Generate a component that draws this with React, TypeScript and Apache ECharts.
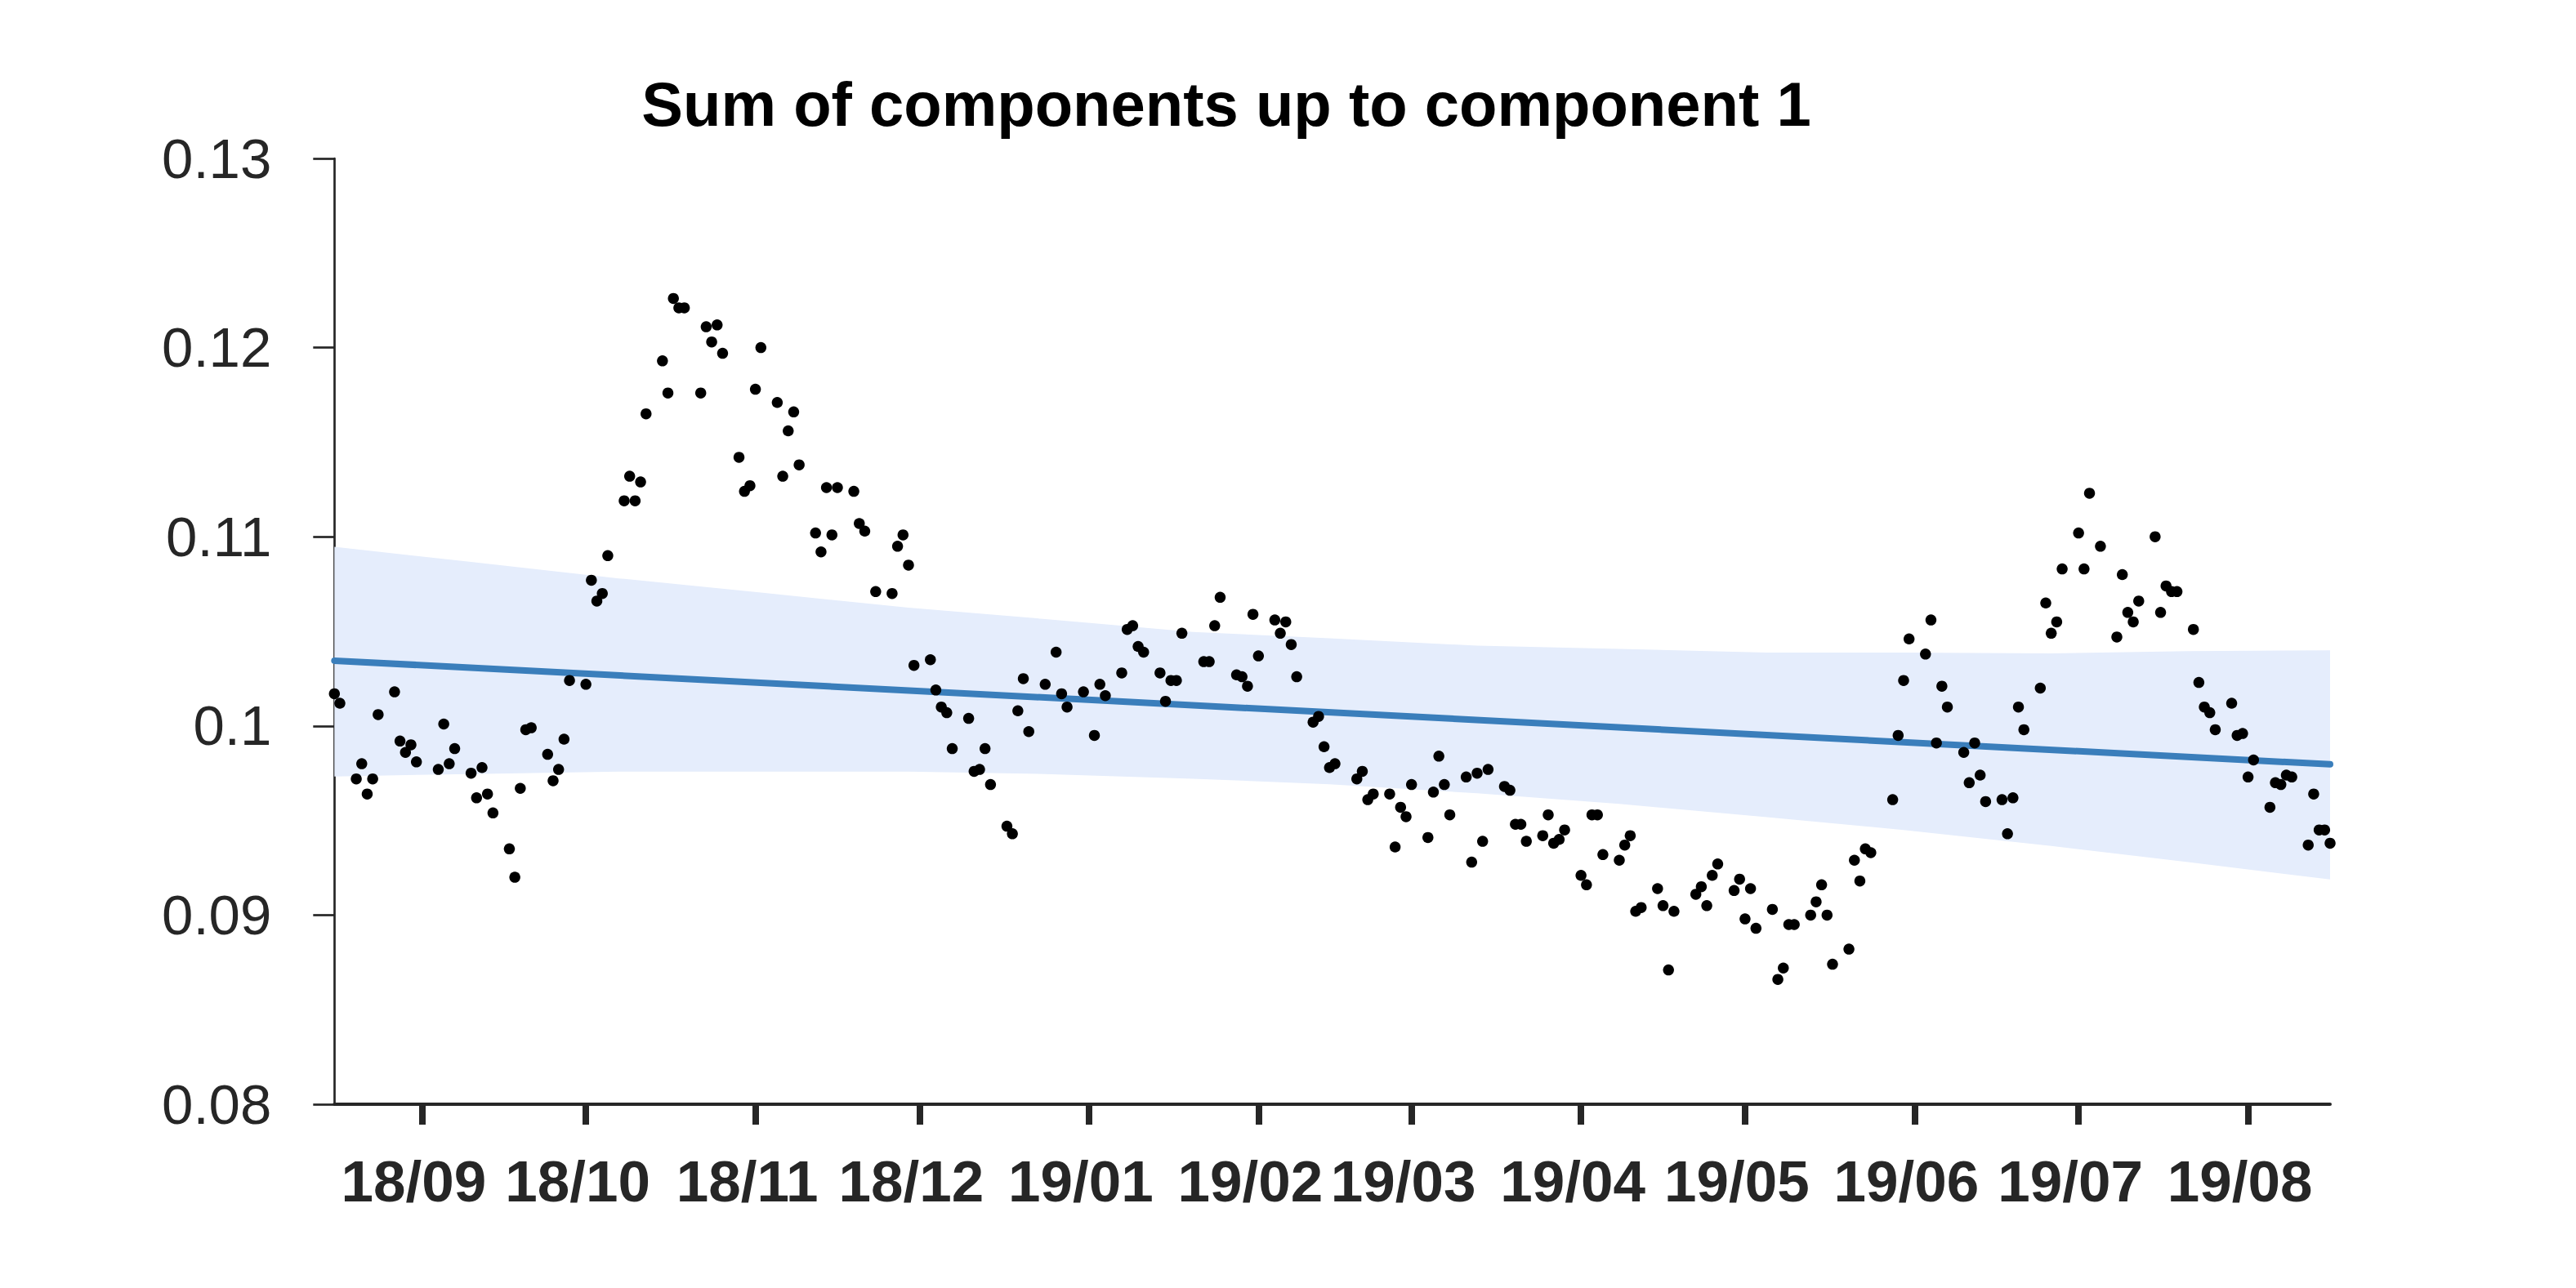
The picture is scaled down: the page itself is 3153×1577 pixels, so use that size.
import { useEffect, useRef } from 'react';
import * as echarts from 'echarts';

const TITLE = 'Sum of components up to component 1';

// Monday of each trading week, and the values Mon..Fri (null = no observation)
const weekStarts = [
  '2018-08-13', '2018-08-20', '2018-08-27', '2018-09-03', '2018-09-10', '2018-09-17', '2018-09-24',
  '2018-10-01', '2018-10-08', '2018-10-15', '2018-10-22', '2018-10-29', '2018-11-05', '2018-11-12',
  '2018-11-19', '2018-11-26', '2018-12-03', '2018-12-10', '2018-12-17', '2018-12-24', '2018-12-31',
  '2019-01-07', '2019-01-14', '2019-01-21', '2019-01-28', '2019-02-04', '2019-02-11', '2019-02-18',
  '2019-02-25', '2019-03-04', '2019-03-11', '2019-03-18', '2019-03-25', '2019-04-01', '2019-04-08',
  '2019-04-15', '2019-04-22', '2019-04-29', '2019-05-06', '2019-05-13', '2019-05-20', '2019-05-27',
  '2019-06-03', '2019-06-10', '2019-06-17', '2019-06-24', '2019-07-01', '2019-07-08', '2019-07-15',
  '2019-07-22', '2019-07-29', '2019-08-05', '2019-08-12',
];

const weekValues: (number | null)[][] = [
  [null, null, null, 0.1017, 0.1012],
  [0.0972, 0.0980, 0.0964, 0.0972, 0.1006],
  [0.1018, 0.0992, 0.0986, 0.0990, 0.0981],
  [null, 0.0977, 0.1001, 0.0980, 0.0988],
  [0.0975, 0.0962, 0.0978, 0.0964, 0.0954],
  [0.0935, 0.0920, 0.0967, 0.0998, 0.0999],
  [0.0985, 0.0971, 0.0977, 0.0993, 0.1024],
  [0.1022, 0.1077, 0.1066, 0.1070, 0.1090],
  [0.1119, 0.1132, 0.1119, 0.1129, 0.1165],
  [0.1193, 0.1176, 0.1226, 0.1221, 0.1221],
  [0.1176, 0.1211, 0.1203, 0.1212, 0.1197],
  [0.1142, 0.1124, 0.1127, 0.1178, 0.1200],
  [0.1171, 0.1132, 0.1156, 0.1166, 0.1138],
  [0.1102, 0.1092, 0.1126, 0.1101, 0.1126],
  [0.1124, 0.1107, 0.1103, null, 0.1071],
  [0.1070, 0.1095, 0.1101, 0.1085, 0.1032],
  [0.1035, 0.1019, 0.1010, 0.1007, 0.0988],
  [0.1004, 0.0976, 0.0977, 0.0988, 0.0969],
  [0.0947, 0.0943, 0.1008, 0.1025, 0.0997],
  [0.1022, null, 0.1039, 0.1017, 0.1010],
  [0.1018, null, 0.0995, 0.1022, 0.1016],
  [0.1028, 0.1051, 0.1053, 0.1042, 0.1039],
  [0.1028, 0.1013, 0.1024, 0.1024, 0.1049],
  [null, 0.1034, 0.1034, 0.1053, 0.1068],
  [0.1027, 0.1026, 0.1021, 0.1059, 0.1037],
  [0.1056, 0.1049, 0.1055, 0.1043, 0.1026],
  [0.1002, 0.1005, 0.0989, 0.0978, 0.0980],
  [null, 0.0972, 0.0976, 0.0961, 0.0964],
  [0.0964, 0.0936, 0.0957, 0.0952, 0.0969],
  [0.0941, 0.0965, 0.0984, 0.0969, 0.0953],
  [0.0973, 0.0928, 0.0975, 0.0939, 0.0977],
  [0.0968, 0.0966, 0.0948, 0.0948, 0.0939],
  [0.0942, 0.0953, 0.0938, 0.0940, 0.0945],
  [0.0921, 0.0916, 0.0953, 0.0953, 0.0932],
  [0.0929, 0.0937, 0.0942, 0.0902, 0.0904],
  [0.0914, 0.0905, 0.0871, 0.0902, null],
  [0.0911, 0.0915, 0.0905, 0.0921, 0.0927],
  [0.0913, 0.0919, 0.0898, 0.0914, 0.0893],
  [0.0903, 0.0866, 0.0872, 0.0895, 0.0895],
  [0.0900, 0.0907, 0.0916, 0.0900, 0.0874],
  [0.0882, 0.0929, 0.0918, 0.0935, 0.0933],
  [null, 0.0961, 0.0995, 0.1024, 0.1046],
  [0.1038, 0.1056, 0.0991, 0.1021, 0.1010],
  [0.0986, 0.0970, 0.0991, 0.0974, 0.0960],
  [0.0961, 0.0943, 0.0962, 0.1010, 0.0998],
  [0.1020, 0.1065, 0.1049, 0.1055, 0.1083],
  [0.1102, 0.1083, 0.1123, null, 0.1095],
  [0.1047, 0.1080, 0.1060, 0.1055, 0.1066],
  [0.1100, 0.1060, 0.1074, 0.1071, 0.1071],
  [0.1051, 0.1023, 0.1010, 0.1007, 0.0998],
  [0.1012, 0.0995, 0.0996, 0.0973, 0.0982],
  [0.0957, 0.0970, 0.0969, 0.0974, 0.0973],
  [0.0937, 0.0964, 0.0945, 0.0945, 0.0938],
];

// Confidence band edges
const bandDates = [
  '2018-08-16', '2018-09-10', '2018-10-07', '2018-11-02', '2018-11-29', '2018-12-24', '2019-01-20',
  '2019-02-14', '2019-03-13', '2019-04-08', '2019-05-05', '2019-05-30', '2019-06-26', '2019-07-21',
  '2019-08-16',
];
const bandUpper = [
  0.10947, 0.10867, 0.1078, 0.10705, 0.10625, 0.10565, 0.10497,
  0.10463, 0.10424, 0.10407, 0.10388, 0.10388, 0.10383, 0.10395,
  0.104,
];
const bandLower = [
  0.09733, 0.09746, 0.09758, 0.09758, 0.09758, 0.09746, 0.09721,
  0.09692, 0.09644, 0.09588, 0.09518, 0.0945, 0.09365, 0.0928,
  0.09188,
];

// Fitted trend line
const fitDates = ['2018-08-16', '2019-08-16'];
const fitValues = [0.10345, 0.09797];

const xRange = ['2018-08-16', '2019-08-16'];
const monthTicks = [
  '2018-09-01', '2018-10-01', '2018-11-01', '2018-12-01', '2019-01-01', '2019-02-01',
  '2019-03-01', '2019-04-01', '2019-05-01', '2019-06-01', '2019-07-01', '2019-08-01',
];
const yMin = 0.08;
const yMax = 0.13;
const yStep = 0.01;

const AXIS = '#262626';
const BAND = '#e5edfc';
const LINE = '#3a7ebb';
const FONT = '"Liberation Sans", Arial, Helvetica, sans-serif';
const DAY = 86400000;

function ts(s: string): number {
  const [y, m, d] = s.split('-').map(Number);
  return Date.UTC(y, m - 1, d);
}

export default function App() {
  const ref = useRef<HTMLDivElement>(null);

  useEffect(() => {
    if (!ref.current) return;
    const chart = echarts.init(ref.current, undefined, { renderer: 'svg' });

    const points: [number, number][] = [];
    weekStarts.forEach((w, i) => {
      weekValues[i].forEach((v, j) => {
        if (v != null) points.push([ts(w) + j * DAY, v]);
      });
    });
    const tickTs = monthTicks.map(ts);

    chart.setOption({
      animation: false,
      backgroundColor: '#ffffff',
      grid: { left: 409.3, right: 301, top: 194, bottom: 225, containLabel: false },
      graphic: [
        {
          type: 'text',
          x: 1501,
          y: 127,
          z: 10,
          style: {
            text: TITLE,
            fill: '#000000',
            font: `bold 76px ${FONT}`,
            align: 'center',
            verticalAlign: 'middle',
            textAlign: 'center',
            textVerticalAlign: 'middle',
          },
        },
      ],
      xAxis: {
        type: 'value',
        min: ts(xRange[0]),
        max: ts(xRange[1]),
        scale: true,
        axisLine: { show: true, onZero: false, lineStyle: { color: AXIS, width: 4 } },
        axisTick: {
          show: true,
          customValues: tickTs,
          length: 25,
          lineStyle: { color: AXIS, width: 8 },
        },
        axisLabel: {
          show: true,
          customValues: tickTs,
          margin: 59,
          color: AXIS,
          fontFamily: FONT,
          fontSize: 71,
          fontWeight: 'bold',
          padding: [0, 20, 0, 0],
          formatter: (v: number) => {
            const d = new Date(v);
            const yy = String(d.getUTCFullYear() % 100).padStart(2, '0');
            const mm = String(d.getUTCMonth() + 1).padStart(2, '0');
            return `${yy}/${mm}`;
          },
        },
        splitLine: { show: false },
      },
      yAxis: {
        type: 'value',
        min: yMin,
        max: yMax,
        interval: yStep,
        axisLine: { show: true, lineStyle: { color: AXIS, width: 2.7 } },
        axisTick: { show: true, length: 26, lineStyle: { color: AXIS, width: 2.7 } },
        axisLabel: {
          margin: 77,
          color: AXIS,
          fontFamily: FONT,
          fontSize: 69,
          formatter: (v: number) => String(parseFloat(v.toFixed(3))),
        },
        splitLine: { show: false },
      },
      series: [
        {
          type: 'custom',
          name: 'band',
          silent: true,
          z: 1,
          data: [[ts(bandDates[0]), bandLower[0]]],
          renderItem: (_params: any, api: any) => {
            const up = bandDates.map((d, i) => api.coord([ts(d), bandUpper[i]]));
            const lo = bandDates.map((d, i) => api.coord([ts(d), bandLower[i]])).reverse();
            return {
              type: 'polygon',
              shape: { points: up.concat(lo) },
              style: { fill: BAND, stroke: null },
            };
          },
        },
        {
          type: 'line',
          name: 'fit',
          z: 2,
          silent: true,
          symbol: 'none',
          data: fitDates.map((d, i) => [ts(d), fitValues[i]]),
          lineStyle: { color: LINE, width: 8, cap: 'round' },
        },
        {
          type: 'scatter',
          name: 'data',
          z: 3,
          silent: true,
          symbol: 'circle',
          symbolSize: 13.5,
          itemStyle: { color: '#000000', opacity: 1 },
          data: points,
        },
      ],
    });

    return () => chart.dispose();
  }, []);

  return (
    <div
      ref={ref}
      style={{ position: 'absolute', left: 0, top: 0, width: 3153, height: 1577, background: '#fff' }}
    />
  );
}
